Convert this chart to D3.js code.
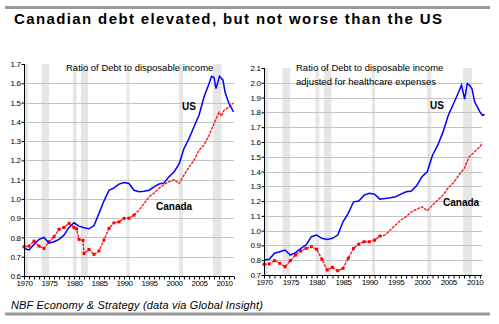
<!DOCTYPE html>
<html><head><meta charset="utf-8">
<script src="https://cdn.jsdelivr.net/npm/d3@7"></script>
<style>body{margin:0;background:#fff}svg{display:block}</style>
</head><body>
<script>
// ---- data ----
const recessions = [[1969.5,1970.8],[1973.5,1975.0],[1979.8,1980.5],[1981.4,1982.8],[1990.5,1991.1],[2001.0,2001.8],[2007.8,2009.5]];
const usYearsL = [1970,1971,1972,1973,1974,1975,1976,1977,1978,1979,1980,1981,1982,1983,1984,1985,1986,1987,1988,1989,1990,1991,1992,1993,1994,1995,1996,1997,1998,1999,2000,2001,2002,2003,2004,2005,2006,2007,2007.5,2008,2008.4,2009.1,2009.8,2010.2,2011,2011.9];
const usValuesL = [0.743,0.735,0.764,0.79,0.80,0.77,0.778,0.79,0.812,0.852,0.876,0.859,0.85,0.845,0.862,0.925,0.99,1.045,1.057,1.077,1.085,1.08,1.045,1.037,1.04,1.045,1.063,1.077,1.083,1.115,1.14,1.18,1.262,1.313,1.374,1.434,1.529,1.598,1.636,1.63,1.572,1.636,1.616,1.555,1.495,1.452];
const caYearsL = [1970,1971,1972,1973,1974,1975,1976,1977,1978,1979,1980,1980.5,1981,1981.8,1982,1983,1984,1985,1986,1987,1988,1989,1990,1991,1992,1993,1994,1995,1996,1997,1998,1999,2000,2001,2002,2003,2004,2005,2006,2007,2008,2009,2009.5,2010,2011,2011.9];
const caValuesL = [0.752,0.755,0.781,0.755,0.743,0.778,0.804,0.842,0.852,0.873,0.852,0.845,0.79,0.785,0.717,0.738,0.712,0.73,0.787,0.847,0.876,0.881,0.899,0.9,0.916,0.942,0.975,1.011,1.03,1.055,1.075,1.089,1.10,1.08,1.123,1.166,1.20,1.253,1.279,1.33,1.39,1.45,1.43,1.46,1.477,1.498];
const usYearsR = [1970,1971,1972,1973,1974,1975,1976,1977,1978,1979,1980,1981,1982,1983,1984,1985,1986,1987,1988,1989,1990,1991,1992,1993,1994,1995,1996,1997,1998,1999,2000,2001,2002,2003,2004,2005,2006,2007,2007.5,2008.1,2008.6,2009,2009.5,2010,2011,2011.5,2011.9];
const usValuesR = [0.801,0.806,0.847,0.857,0.869,0.835,0.851,0.88,0.903,0.959,0.97,0.948,0.941,0.948,0.97,1.06,1.117,1.195,1.20,1.24,1.252,1.247,1.213,1.218,1.222,1.229,1.247,1.263,1.268,1.305,1.364,1.398,1.51,1.578,1.668,1.78,1.86,1.939,1.984,1.89,1.995,1.984,1.96,1.871,1.803,1.78,1.785];
const caYearsR = [1970,1971,1972,1973,1974,1975,1976,1977,1978,1979,1980,1981,1982,1983,1984,1985,1986,1987,1988,1989,1990,1991,1992,1993,1994,1995,1996,1997,1998,1999,2000,2001,2002,2003,2004,2005,2006,2007,2008,2009,2010,2011,2011.5];
const caValuesR = [0.772,0.775,0.797,0.779,0.756,0.797,0.835,0.862,0.88,0.891,0.874,0.806,0.734,0.752,0.729,0.745,0.813,0.88,0.909,0.925,0.925,0.936,0.963,0.97,1.005,1.038,1.072,1.094,1.128,1.144,1.162,1.134,1.173,1.207,1.24,1.29,1.325,1.376,1.42,1.50,1.533,1.567,1.594];
const xTickYears = [1970,1975,1980,1985,1990,1995,2000,2005,2010];
const yTicksL = [0.6,0.7,0.8,0.9,1.0,1.1,1.2,1.3,1.4,1.5,1.6,1.7];
const yTicksR = [0.7,0.8,0.9,1.0,1.1,1.2,1.3,1.4,1.5,1.6,1.7,1.8,1.9,2.0,2.1];
const titleText = "Canadian debt elevated, but not worse than the US";
const sourceText = "NBF Economy & Strategy (data via Global Insight)";

const W=499,H=324;
const svg=d3.select("body").append("svg").attr("width",W).attr("height",H);
svg.append("rect").attr("width",W).attr("height",H).attr("fill","#fff");
svg.append("line").attr("x1",5).attr("x2",490).attr("y1",7.5).attr("y2",7.5).attr("stroke","#999").attr("stroke-width",3);
svg.append("line").attr("x1",5).attr("x2",490).attr("y1",314).attr("y2",314).attr("stroke","#999").attr("stroke-width",3);
svg.append("text").attr("x",14).attr("y",24).attr("font-family","Liberation Sans, Arial, sans-serif")
  .attr("font-weight","bold").attr("font-size",15).attr("textLength",428).attr("lengthAdjust","spacing").text(titleText);
svg.append("text").attr("x",11).attr("y",309).attr("font-family","Liberation Sans, Arial, sans-serif")
  .attr("font-style","italic").attr("font-size",11).attr("textLength",252).attr("lengthAdjust","spacing").text(sourceText);

function panel(cfg){
  const x=d3.scaleLinear().domain(cfg.xd).range(cfg.xr);
  const y=d3.scaleLinear().domain(cfg.yd).range(cfg.yr);
  const g=svg.append("g");
  const [x0,x1]=cfg.xr, [yb,yt]=cfg.yr;
  g.selectAll(".rec").data(recessions).join("rect")
    .attr("x",d=>x(Math.max(d[0],cfg.xd[0]))).attr("width",d=>x(d[1])-x(Math.max(d[0],cfg.xd[0])))
    .attr("y",yt).attr("height",yb-yt).attr("fill","#e6e6e6");
  g.selectAll(".grid").data(cfg.yt.slice(1,-1)).join("line")
    .attr("x1",x0).attr("x2",x1).attr("y1",d=>Math.round(y(d))+0.5).attr("y2",d=>Math.round(y(d))+0.5)
    .attr("stroke","#c4c4c4").attr("stroke-width",1);
  const line=(xs,vs)=>d3.line().x(i=>x(xs[i])).y(i=>y(vs[i]))(d3.range(xs.length));
  g.append("path").attr("d",line(cfg.caX,cfg.caV)).attr("fill","none").attr("stroke","#ff1a1a")
    .attr("stroke-width",1.4).attr("stroke-dasharray","3,1");
  g.selectAll(".mk").data(d3.range(cfg.caX.length).filter(i=>cfg.caX[i]<=1992)).join("rect")
    .attr("x",i=>x(cfg.caX[i])-1.5).attr("y",i=>y(cfg.caV[i])-1.5).attr("width",3).attr("height",3).attr("fill","#ff0000");
  g.append("path").attr("d",line(cfg.usX,cfg.usV)).attr("fill","none").attr("stroke","#0000ff").attr("stroke-width",1.5);
  const ya=d3.axisLeft(y).tickValues(cfg.yt).tickSize(3).tickPadding(1).tickFormat(d3.format(".1f"));
  const yg=g.append("g").attr("transform",`translate(${x0+0.5},0)`).call(ya);
  const minor=d3.range(1970,Math.floor(cfg.xd[1])+1);
  const xa=d3.axisBottom(x).tickValues(minor).tickSize(3).tickPadding(2).tickFormat(d=>xTickYears.includes(d)?d:"");
  const xg=g.append("g").attr("transform",`translate(0,${yb+0.5})`).call(xa);
  [yg,xg].forEach(a=>{
    a.selectAll("text").attr("font-family","Liberation Sans Narrow, Arial Narrow, Liberation Sans, sans-serif").attr("font-size",8).attr("fill","#000").attr("letter-spacing",-0.4);
    a.selectAll("line").attr("stroke","#000");});
  xg.select(".domain").remove(); yg.select(".domain").remove();
  g.append("line").attr("x1",x0+0.5).attr("x2",x0+0.5).attr("y1",yt).attr("y2",yb+0.5).attr("stroke","#000");
  g.append("line").attr("x1",x0).attr("x2",x1).attr("y1",yb+0.5).attr("y2",yb+0.5).attr("stroke","#000");
  xg.selectAll("text").attr("dy","0.6em");
  const f="Liberation Sans, Arial, sans-serif";
  cfg.notes.forEach(n=>g.append("text").attr("x",n[0]).attr("y",n[1]).attr("font-family",f)
    .attr("font-size",n[3]||9.5).attr("font-weight",n[4]||"normal").text(n[2]));
}

panel({xd:[1970,2012],xr:[24,234],yd:[0.6,1.7],yr:[276,64],yt:yTicksL,
  usX:usYearsL,usV:usValuesL,caX:caYearsL,caV:caValuesL,
  notes:[[66,71,"Ratio of Debt to disposable income",9.5],[182,110,"US",10,"bold"],[156,210,"Canada",10,"bold"]]});
panel({xd:[1970,2011.4],xr:[264,482],yd:[0.7,2.1],yr:[275,68],yt:yTicksR,
  usX:usYearsR,usV:usValuesR,caX:caYearsR,caV:caValuesR,
  notes:[[296,71,"Ratio of Debt to disposable income",9.5],[296,85,"adjusted for healthcare expenses",9.5],[430,109,"US",10,"bold"],[443,206,"Canada",10,"bold"]]});
</script>
</body></html>
